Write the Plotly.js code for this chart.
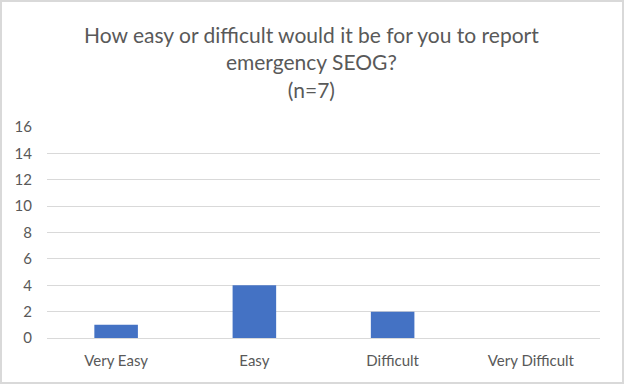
<!DOCTYPE html>
<html><head><meta charset="utf-8">
<script src="https://cdn.plot.ly/plotly-3.0.1.min.js"></script>
<style>
html,body{margin:0;padding:0;background:#fff;}
#chart{width:620px;height:380px;border:2px solid #d9d9d9;}
</style></head>
<body><div id="chart"></div>
<script>
var categories = ["Very Easy", "Easy", "Difficult", "Very Difficult"];
var counts = [1, 4, 2, 0];
var yTicks = [0, 2, 4, 6, 8, 10, 12, 14, 16];
var titleText = "How easy or difficult would it be for you to report<br>emergency SEOG?<br>(n=7)";

var trace = {
  type: "bar",
  x: categories,
  y: counts,
  marker: {color: "#4472C4"},
  hoverinfo: "x+y"
};

var layout = {
  width: 620, height: 380,
  margin: {l: 45, r: 22, t: 125, b: 44},
  paper_bgcolor: "#fff", plot_bgcolor: "#fff",
  font: {family: "Lato, 'Open Sans', sans-serif", color: "#595959", size: 13},
  annotations: [{
    text: titleText, showarrow: false,
    xref: "paper", yref: "paper", x: 0.478, y: 1.307,
    xanchor: "center", yanchor: "middle", align: "center",
    font: {family: "Lato, 'Open Sans', sans-serif", size: 21, color: "#595959"}
  }],
  bargap: 0.685,
  showlegend: false,
  xaxis: {
    type: "category",
    showgrid: false, showline: true, linecolor: "#d9d9d9", linewidth: 1,
    ticks: "", tickfont: {size: 15, color: "#595959"}, ticklabelstandoff: 9,
    zeroline: false
  },
  yaxis: {
    range: [0, 16], tickvals: yTicks, ticktext: yTicks.map(String),
    showgrid: true, gridcolor: "#d9d9d9", gridwidth: 1,
    zeroline: false, showline: false, ticks: "",
    tickfont: {size: 15, color: "#595959"}, ticklabelstandoff: 14
  }
};

Plotly.newPlot("chart", [trace], layout, {displayModeBar: false, staticPlot: true});
</script></body></html>
